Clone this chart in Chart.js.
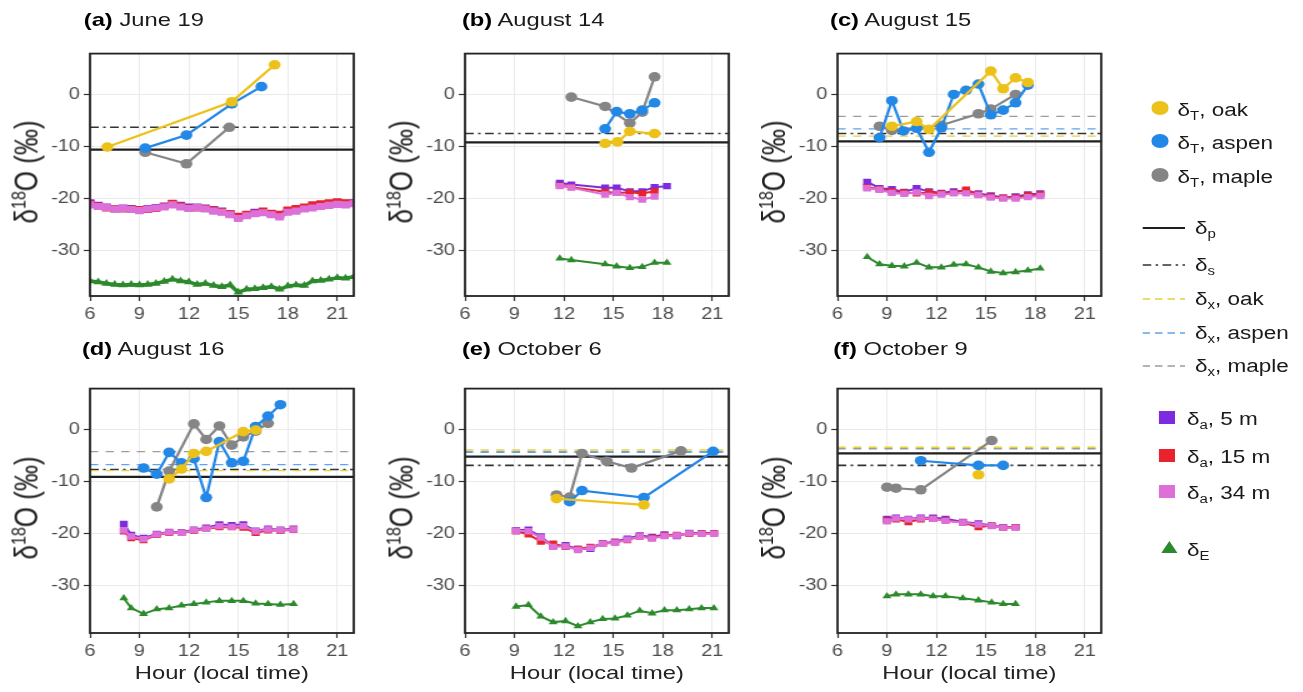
<!DOCTYPE html>
<html lang="en">
<head>
<meta charset="UTF-8">
<title>δ18O diurnal panels</title>
<script src="https://cdn.jsdelivr.net/npm/chart.js@4.4.1/dist/chart.umd.min.js"></script>
<style>
    html, body { margin: 0; padding: 0; background: #fff; }
    body { width: 1303px; height: 692px; overflow: hidden; font-family: 'Liberation Sans', Arial, sans-serif; color: #1a1a1a; }
    /* the source figure is stretched horizontally, so the whole page is too */
    #fig { position: absolute; left: 0; top: 0; width: 1043px; height: 692px; transform: scaleX(1.25); transform-origin: 0 0; }
    canvas { position: absolute; }
    .title { position: absolute; font-size: 19px; line-height: 20px; white-space: nowrap; }
    .title b { color: #000; }
    .ytitle { position: absolute; font-size: 26px; line-height: 26px; white-space: nowrap; transform: translate(-50%, -50%) rotate(-90deg); color: #222; }
    .ytitle sup { font-size: 16px; vertical-align: 10px; line-height: 0; }
    .xtitle { position: absolute; font-size: 19px; line-height: 20px; white-space: nowrap; transform: translateX(-50%); color: #222; }
    .leg { position: absolute; font-size: 18px; line-height: 20px; white-space: nowrap; transform: translateY(-50%); }
    .leg sub { font-size: 12px; vertical-align: -4px; line-height: 0; }
    .sym { position: absolute; transform: translateY(-50%); }
</style>
</head>
<body>
<div id="fig"></div>

<script>
// ---- axes ----
const xTicks = [6, 9, 12, 15, 18, 21];
const yTicks = [-30, -20, -10, 0];
const titles = [['(a)', 'June 19'], ['(b)', 'August 14'], ['(c)', 'August 15'],
                ['(d)', 'August 16'], ['(e)', 'October 6'], ['(f)', 'October 9']];

// ---- horizontal reference levels per panel (a..f) ----
const dP      = [-10.6, -9.2, -9.0, -9.1, -5.2, -4.6];
const dS      = [-6.3, -7.5, -7.5, -7.7, -6.9, -6.9];
const dXoak   = [null, null, -8.0, -7.9, -3.9, -3.4];
const dXaspen = [null, null, -6.6, -6.75, -4.4, null];
const dXmaple = [null, null, -4.2, -4.25, -4.2, -3.7];

// ---- (a) June 19 ----
const a_oak   = [[7.05, -10.1], [14.6, -1.4], [17.2, 5.7]];
const a_aspen = [[9.35, -10.3], [11.85, -7.8], [14.6, -1.8], [16.4, 1.5]];
const a_maple = [[9.35, -11.1], [11.85, -13.3], [14.45, -6.3]];
const a_hr    = [6, 6.5, 7, 7.5, 8, 8.5, 9, 9.5, 10, 10.5, 11, 11.5, 12, 12.5, 13, 13.5, 14,
                 14.5, 15, 15.5, 16, 16.5, 17, 17.5, 18, 18.5, 19, 19.5, 20, 20.5, 21, 21.5, 22];
const a_air5  = [-20.8, -21.3, -21.6, -22.0, -21.8, -21.9, -22.2, -21.9, -21.7, -21.4, -21.0, -21.3, -21.6, -21.6, -21.8, -22.1, -22.4,
                 -22.9, -23.5, -23.1, -22.6, -22.5, -22.9, -23.2, -22.3, -22.1, -21.8, -21.5, -21.2, -21.0, -20.8, -20.9, -20.8];
const a_air15 = [-21.0, -21.4, -21.8, -21.9, -22.0, -22.0, -22.1, -22.1, -21.9, -21.5, -20.9, -21.4, -21.8, -21.8, -21.9, -22.2, -22.5,
                 -22.9, -23.4, -23.0, -22.8, -22.4, -22.8, -23.0, -22.2, -21.9, -21.6, -21.2, -21.0, -20.8, -20.6, -20.8, -20.9];
const a_air34 = [-21.2, -21.5, -21.7, -22.0, -21.9, -22.1, -22.3, -22.0, -21.8, -21.6, -21.2, -21.6, -21.9, -21.7, -22.0, -22.4, -22.6,
                 -23.1, -23.8, -23.3, -22.9, -22.7, -23.1, -23.5, -22.6, -22.4, -22.0, -21.8, -21.5, -21.3, -21.1, -21.2, -21.0];
const a_E     = [-35.8, -36.0, -36.3, -36.5, -36.6, -36.5, -36.6, -36.5, -36.3, -35.9, -35.5, -35.8, -36.0, -36.5, -36.3, -36.7, -36.9,
                 -36.6, -38.0, -37.4, -37.3, -37.1, -36.9, -37.4, -36.8, -36.6, -36.7, -35.8, -35.7, -35.5, -35.2, -35.3, -35.0];

// ---- (b) August 14 ----
const b_oak   = [[14.5, -9.4], [15.25, -9.1], [16.0, -7.1], [17.5, -7.5]];
const b_aspen = [[14.5, -6.6], [15.2, -3.3], [16.0, -3.7], [16.75, -3.0], [17.5, -1.6]];
const b_maple = [[12.45, -0.5], [14.5, -2.3], [16.0, -5.5], [16.75, -3.4], [17.5, 3.4]];
const b_hr    = [11.75, 12.45, 14.5, 15.2, 16.0, 16.75, 17.5, 18.25];
const b_air5  = [-17.0, -17.3, -17.9, -17.9, -18.6, -18.6, -17.8, -17.6];
const b_air15 = [-17.5, -17.8, -18.7, -18.9, -18.8, -19.0, -18.6, null];
const b_air34 = [-17.6, -17.9, -19.2, -18.9, -19.7, -20.2, -19.6, null];
const b_E     = [-31.5, -31.8, -32.6, -33.0, -33.3, -33.1, -32.3, -32.3];

// ---- (c) August 15 ----
const c_oak   = [[9.3, -6.1], [10.8, -5.2], [11.55, -6.7], [15.3, 4.5], [16.05, 1.1], [16.8, 3.2], [17.55, 2.3]];
const c_aspen = [[8.55, -8.3], [9.3, -1.2], [10.0, -7.0], [10.8, -6.5], [11.55, -11.1], [12.3, -6.4], [13.05, 0.0],
                 [13.8, 0.8], [14.55, 2.0], [15.3, -3.9], [16.05, -3.0], [16.8, -1.6], [17.55, 1.8]];
const c_maple = [[8.55, -6.1], [9.3, -6.9], [12.3, -5.9], [14.55, -3.7], [15.3, -2.8], [16.8, 0.0]];
const c_hr    = [7.8, 8.55, 9.3, 10.05, 10.8, 11.55, 12.3, 13.05, 13.8, 14.55, 15.3, 16.05, 16.8, 17.55, 18.3];
const c_air5  = [-16.8, -18.0, -18.2, -18.7, -18.0, -18.6, -18.9, -18.6, -18.5, -19.0, -19.4, -19.8, -19.6, -19.2, -19.0];
const c_air15 = [-17.8, -18.2, -18.6, -18.8, -19.0, -18.8, -19.0, -18.9, -18.3, -19.2, -19.6, -19.8, -19.8, -19.4, -19.2];
const c_air34 = [-18.0, -18.3, -18.9, -19.1, -18.8, -19.5, -19.2, -19.0, -19.0, -19.3, -19.8, -20.0, -20.0, -19.7, -19.5];
const c_E     = [-31.2, -32.6, -32.9, -33.0, -32.3, -33.2, -33.2, -32.7, -32.6, -33.2, -34.0, -34.3, -34.1, -33.8, -33.4];

// ---- (d) August 16 ----
const d_oak   = [[10.8, -9.5], [11.55, -7.6], [12.3, -4.6], [13.05, -4.2], [15.3, -0.4], [16.05, -0.1]];
const d_aspen = [[9.25, -7.4], [10.05, -8.6], [10.8, -4.4], [11.55, -6.4], [12.3, -5.6], [13.05, -13.1],
                 [13.85, -2.3], [14.6, -6.4], [15.3, -6.1], [16.05, 0.6], [16.8, 2.6], [17.55, 4.8]];
const d_maple = [[10.05, -14.9], [10.8, -8.0], [12.3, 1.1], [13.05, -1.9], [13.85, 0.7], [14.6, -3.0],
                 [15.3, -1.4], [16.05, -0.3], [16.8, 1.2]];
const d_hr    = [8.05, 8.5, 9.25, 10.05, 10.8, 11.55, 12.3, 13.05, 13.85, 14.6, 15.3, 16.05, 16.8, 17.55, 18.35];
const d_air5  = [-18.2, -20.3, -20.9, -20.1, -19.7, -19.8, -19.3, -18.9, -18.3, -18.4, -18.3, -19.5, -19.1, -19.3, -19.1];
const d_air15 = [-19.6, -20.9, -21.3, -20.3, -19.9, -19.9, -19.5, -19.1, -18.8, -18.8, -18.9, -19.9, -19.4, -19.5, -19.3];
const d_air34 = [-19.4, -20.6, -21.1, -20.2, -19.8, -19.9, -19.4, -19.1, -18.6, -18.75, -18.6, -19.6, -19.25, -19.4, -19.25];
const d_E     = [-32.5, -34.4, -35.5, -34.6, -34.4, -33.9, -33.6, -33.3, -33.0, -33.0, -33.0, -33.5, -33.6, -33.75, -33.6];

// ---- (e) October 6 ----
const e_oak   = [[11.55, -13.3], [16.85, -14.5]];
const e_aspen = [[12.35, -13.9], [13.1, -11.75], [16.85, -13.1], [21.05, -4.2]];
const e_maple = [[11.55, -12.6], [12.35, -13.0], [13.1, -4.6], [14.6, -6.1], [16.1, -7.4], [19.1, -4.1]];
const e_hr    = [9.1, 9.85, 10.6, 11.35, 12.1, 12.85, 13.6, 14.35, 15.1, 15.85, 16.6, 17.35, 18.1, 18.85, 19.6, 20.35, 21.1];
const e_air5  = [-19.4, -19.3, -20.6, -22.5, -22.3, -23.0, -23.0, -21.9, -21.6, -21.0, -20.4, -20.7, -20.2, -20.5, -19.9, -20.0, -20.0];
const e_air15 = [-19.6, -20.2, -21.6, -22.0, -22.6, -23.0, -22.6, -22.0, -21.7, -21.3, -20.6, -20.9, -20.4, -20.3, -20.1, -20.0, -20.0];
const e_air34 = [-19.5, -19.6, -20.8, -22.6, -22.5, -23.2, -22.8, -22.0, -21.8, -21.2, -20.6, -21.0, -20.5, -20.4, -20.0, -20.1, -20.1];
const e_E     = [-34.1, -33.8, -36.0, -37.1, -36.9, -37.9, -37.1, -36.5, -36.4, -35.8, -34.9, -35.4, -34.8, -34.8, -34.6, -34.4, -34.4];

// ---- (f) October 9 ----
const f_oak   = [[14.55, -8.7]];
const f_aspen = [[11.05, -6.0], [14.55, -6.9], [16.05, -6.9]];
const f_maple = [[9.0, -11.1], [9.55, -11.3], [11.05, -11.6], [15.35, -2.1]];
const f_hr    = [9.0, 9.55, 10.3, 11.05, 11.8, 12.55, 13.6, 14.55, 15.35, 16.05, 16.8];
const f_air5  = [-17.2, -17.0, -17.2, -17.0, -17.0, -17.2, -17.8, -18.1, -18.5, -18.8, -18.8];
const f_air15 = [-17.5, -17.3, -17.8, -17.3, -17.2, -17.5, -17.9, -18.8, -18.5, -18.9, -18.8];
const f_air34 = [-17.7, -17.1, -17.3, -17.1, -17.2, -17.6, -17.9, -18.3, -18.6, -18.9, -18.9];
const f_E     = [-32.1, -31.75, -31.75, -31.75, -32.1, -32.1, -32.5, -32.9, -33.3, -33.6, -33.6];

// ---- colours ----
const col = {
    oak: '#ECC21A', aspen: '#2387E6', maple: '#858585',
    a5: '#7C2BDF', a15: '#E8232B', a34: '#DC70D8', E: '#2C8A2C',
    p: '#1f1f1f', s: '#333333', xoak: '#E4D23C', xaspen: '#5AA6E6', xmaple: '#9C9C9C'
};
const FONT = "'Liberation Sans', Arial, sans-serif";

const panels = [
    { oak: a_oak, aspen: a_aspen, maple: a_maple, hr: a_hr, a5: a_air5, a15: a_air15, a34: a_air34, E: a_E, dense: true },
    { oak: b_oak, aspen: b_aspen, maple: b_maple, hr: b_hr, a5: b_air5, a15: b_air15, a34: b_air34, E: b_E },
    { oak: c_oak, aspen: c_aspen, maple: c_maple, hr: c_hr, a5: c_air5, a15: c_air15, a34: c_air34, E: c_E },
    { oak: d_oak, aspen: d_aspen, maple: d_maple, hr: d_hr, a5: d_air5, a15: d_air15, a34: d_air34, E: d_E },
    { oak: e_oak, aspen: e_aspen, maple: e_maple, hr: e_hr, a5: e_air5, a15: e_air15, a34: e_air34, E: e_E },
    { oak: f_oak, aspen: f_aspen, maple: f_maple, hr: f_hr, a5: f_air5, a15: f_air15, a34: f_air34, E: f_E }
];

// panel geometry (unstretched page px)
const colLeft = [72, 372, 670];
const rowTop = [47, 382];
const rowH = [249, 251];
const rowY = [[-38.7, 7.85], [-39.2, 7.9]];
const PW = 211, YW = 40, XH = 27, PAD = 6;

const fig = document.getElementById('fig');

function pts(arr) { return arr.map(p => ({ x: p[0], y: p[1] })); }
function xy(xs, ys) { return xs.map((x, i) => ({ x: x, y: ys[i] })); }

function treeSet(data, c) {
    return { data: pts(data), borderColor: c, backgroundColor: c, pointBackgroundColor: c, pointBorderColor: c,
             borderWidth: 2.2, pointRadius: 4.8, pointBorderWidth: 0, fill: false };
}
function airSet(xs, ys, c, dense) {
    return { data: xy(xs, ys), borderColor: c, backgroundColor: c, pointBackgroundColor: c, pointBorderColor: c,
             pointStyle: 'rect', borderWidth: dense ? 4 : 2, pointRadius: dense ? 5 : 4.5, pointBorderWidth: 0, fill: false };
}
function eSet(xs, ys, dense) {
    return { data: xy(xs, ys), borderColor: col.E, backgroundColor: col.E, pointBackgroundColor: col.E, pointBorderColor: col.E,
             pointStyle: 'triangle', borderWidth: dense ? 3.5 : 2, pointRadius: dense ? 4.5 : 4.2, pointBorderWidth: 0, fill: false };
}
function refSet(v, c, dash, w) {
    return { data: [{ x: 6, y: v }, { x: 22, y: v }], borderColor: c, borderDash: dash, borderWidth: w,
             pointRadius: 0, fill: false };
}

// black frame around each panel, drawn over the data like ggplot's panel border
const frame = {
    id: 'frame',
    afterDatasetsDraw(chart) {
        const a = chart.chartArea, ctx = chart.ctx;
        ctx.save();
        ctx.strokeStyle = '#222';
        ctx.lineWidth = 1.8;
        ctx.strokeRect(a.left, a.top, a.right - a.left, a.bottom - a.top);
        ctx.restore();
    }
};

function addDiv(cls, html, left, top) {
    const d = document.createElement('div');
    d.className = cls;
    d.innerHTML = html;
    d.style.left = left + 'px';
    d.style.top = top + 'px';
    fig.appendChild(d);
    return d;
}

const titleLeft = [67, 369.5, 664, 65.5, 369.5, 666.5];

panels.forEach((p, i) => {
    const r = Math.floor(i / 3), c = i % 3;
    const left = colLeft[c], top = rowTop[r], h = rowH[r];

    const cv = document.createElement('canvas');
    const W = YW + PW + PAD, H = PAD + h + XH;
    cv.width = W; cv.height = H;
    cv.style.width = W + 'px'; cv.style.height = H + 'px';
    cv.style.left = (left - YW) + 'px';
    cv.style.top = (top - PAD) + 'px';
    fig.appendChild(cv);

    // first dataset ends up on top
    const ds = [
        treeSet(p.oak, col.oak),
        treeSet(p.aspen, col.aspen),
        treeSet(p.maple, col.maple),
        airSet(p.hr, p.a34, col.a34, p.dense),
        airSet(p.hr, p.a15, col.a15, p.dense),
        airSet(p.hr, p.a5, col.a5, p.dense),
        eSet(p.hr, p.E, p.dense)
    ];
    if (dXoak[i] !== null) ds.push(refSet(dXoak[i], col.xoak, [6.5, 6], 1.4));
    if (dXaspen[i] !== null) ds.push(refSet(dXaspen[i], col.xaspen, [6.5, 6], 1.4));
    if (dXmaple[i] !== null) ds.push(refSet(dXmaple[i], col.xmaple, [6.5, 6], 1.4));
    ds.push(refSet(dS[i], col.s, [7, 3.5, 2, 3.5], 1.6));
    ds.push(refSet(dP[i], col.p, [], 2.2));

    const tickFont = { family: FONT, size: 16 };
    new Chart(cv, {
        type: 'line',
        data: { datasets: ds },
        options: {
            responsive: false,
            animation: false,
            events: [],
            layout: { padding: { top: PAD, right: PAD, left: 0, bottom: 0 } },
            plugins: { legend: { display: false }, tooltip: { enabled: false } },
            scales: {
                x: {
                    type: 'linear', min: 6, max: 22,
                    afterBuildTicks: s => { s.ticks = xTicks.map(v => ({ value: v })); },
                    afterFit: s => { s.height = XH; },
                    grid: { color: '#EBEBEB', lineWidth: 1, tickColor: '#333', tickLength: 5, tickWidth: 1.2 },
                    border: { display: false },
                    ticks: { autoSkip: false, maxRotation: 0, padding: 4, color: '#4D4D4D', font: tickFont }
                },
                y: {
                    type: 'linear', min: rowY[r][0], max: rowY[r][1],
                    afterBuildTicks: s => { s.ticks = yTicks.map(v => ({ value: v })); },
                    afterFit: s => { s.width = YW; },
                    grid: { color: '#EBEBEB', lineWidth: 1, tickColor: '#333', tickLength: 5, tickWidth: 1.2 },
                    border: { display: false },
                    ticks: { padding: 3, color: '#4D4D4D', font: tickFont }
                }
            }
        },
        plugins: [frame]
    });

    addDiv('title', '<b>' + titles[i][0] + '</b> ' + titles[i][1], titleLeft[i], r === 0 ? 10 : 339);
    addDiv('ytitle', '&delta;<sup>18</sup>O (&permil;)', left - 51, top + h / 2);
    if (r === 1) addDiv('xtitle', 'Hour (local time)', left + PW / 2, 663);
});

// ---- legend ----
function sym(svg, left, cy, w, h) {
    const d = document.createElement('div');
    d.className = 'sym';
    d.style.left = left + 'px';
    d.style.top = cy + 'px';
    d.innerHTML = '<svg width="' + w + '" height="' + h + '" viewBox="0 0 ' + w + ' ' + h + '">' + svg + '</svg>';
    fig.appendChild(d);
}
const legTrees = [['oak', col.oak, 110], ['aspen', col.aspen, 143], ['maple', col.maple, 177]];
legTrees.forEach(t => {
    sym('<circle cx="7" cy="7" r="7" fill="' + t[1] + '"/>', 921, t[2], 14, 14);
    addDiv('leg', '&delta;<sub>T</sub>, ' + t[0], 942, t[2]);
});
const legLines = [
    ['&delta;<sub>p</sub>', col.p, '', 2.2, 228],
    ['&delta;<sub>s</sub>', col.s, '7 3.5 2 3.5', 1.6, 265],
    ['&delta;<sub>x</sub>, oak', col.xoak, '6 4', 1.6, 299],
    ['&delta;<sub>x</sub>, aspen', col.xaspen, '6 4', 1.6, 333],
    ['&delta;<sub>x</sub>, maple', col.xmaple, '6 4', 1.6, 366]
];
legLines.forEach(l => {
    sym('<line x1="0" y1="5" x2="34" y2="5" stroke="' + l[1] + '" stroke-width="' + l[3] + '"' +
        (l[2] ? ' stroke-dasharray="' + l[2] + '"' : '') + '/>', 914, l[4], 34, 10);
    addDiv('leg', l[0], 956, l[4]);
});
const legAir = [['5 m', col.a5, 419], ['15 m', col.a15, 457], ['34 m', col.a34, 493]];
legAir.forEach(a => {
    sym('<rect x="0" y="0" width="13" height="13" fill="' + a[1] + '"/>', 926.5, a[2], 13, 13);
    addDiv('leg', '&delta;<sub>a</sub>, ' + a[0], 949.5, a[2]);
});
sym('<polygon points="6.5,0 13,12 0,12" fill="' + col.E + '"/>', 929, 548, 13, 12);
addDiv('leg', '&delta;<sub>E</sub>', 949.5, 550);
</script>
</body>
</html>
